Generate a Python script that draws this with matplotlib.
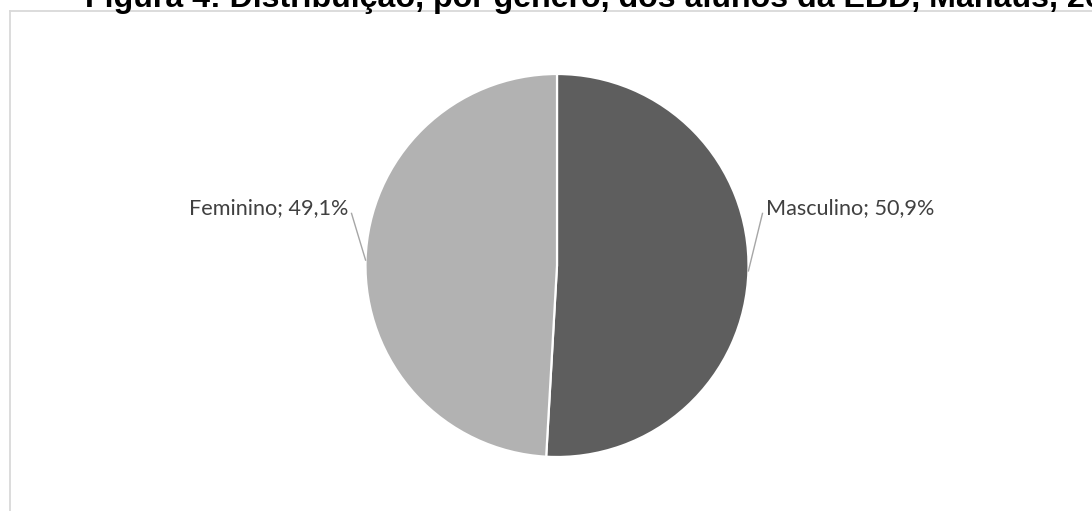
import matplotlib
matplotlib.use('Agg')
import matplotlib.pyplot as plt
import numpy as np
from matplotlib.lines import Line2D

# ============ dados ============
categorias = ['Masculino', 'Feminino']
percentuais = [50.9, 49.1]
cores = ['#5e5e5e', '#b2b2b2']
titulo = 'Figura 4: Distribuição, por gênero, dos alunos da EBD, Manaus, 2019'

W, H = 1092, 511
fig = plt.figure(figsize=(W / 100, H / 100), dpi=100)

# moldura cinza (cortada à direita e embaixo)
fig.add_artist(Line2D([9.5 / W, 1.0], [1 - 11 / H, 1 - 11 / H], color='#d9d9d9', lw=1.3))
fig.add_artist(Line2D([9.5 / W, 9.5 / W], [0, 1 - 11 / H], color='#d9d9d9', lw=1.3))

# título (cortado no topo, como na imagem)
fig.text(85 / W, 1 - 7 / H, titulo, fontsize=23.1, fontweight='bold',
         family='Liberation Sans', color='black', ha='left', va='baseline')

# pizza
cx, cy, r = 557, 265.5, 191.5
ax = fig.add_axes([(cx - r) / W, (H - cy - r) / H, 2 * r / W, 2 * r / H])
wedges, _ = ax.pie(percentuais, colors=cores, startangle=90, counterclock=False,
                   wedgeprops=dict(edgecolor='white', linewidth=1.6))
ax.set_xlim(-1, 1)
ax.set_ylim(-1, 1)
ax.set_aspect('equal')
ax.axis('off')

# rótulos com linhas de chamada
for w, nome, v in zip(wedges, categorias, percentuais):
    ang = np.deg2rad((w.theta1 + w.theta2) / 2)
    x0, y0 = np.cos(ang), np.sin(ang)
    s = np.sign(x0)
    ax.plot([x0, s * 1.073], [y0, 0.272], color='#a6a6a6', lw=1.0, clip_on=False)
    txt = f'{nome}; {v:.1f}%'.replace('.', ',')
    ax.text(s * 1.09, 0.30, txt, ha='left' if s > 0 else 'right', va='center',
            fontsize=15.6, family='Lato', color='#404040', clip_on=False)

fig.savefig('out.png', dpi=100)
